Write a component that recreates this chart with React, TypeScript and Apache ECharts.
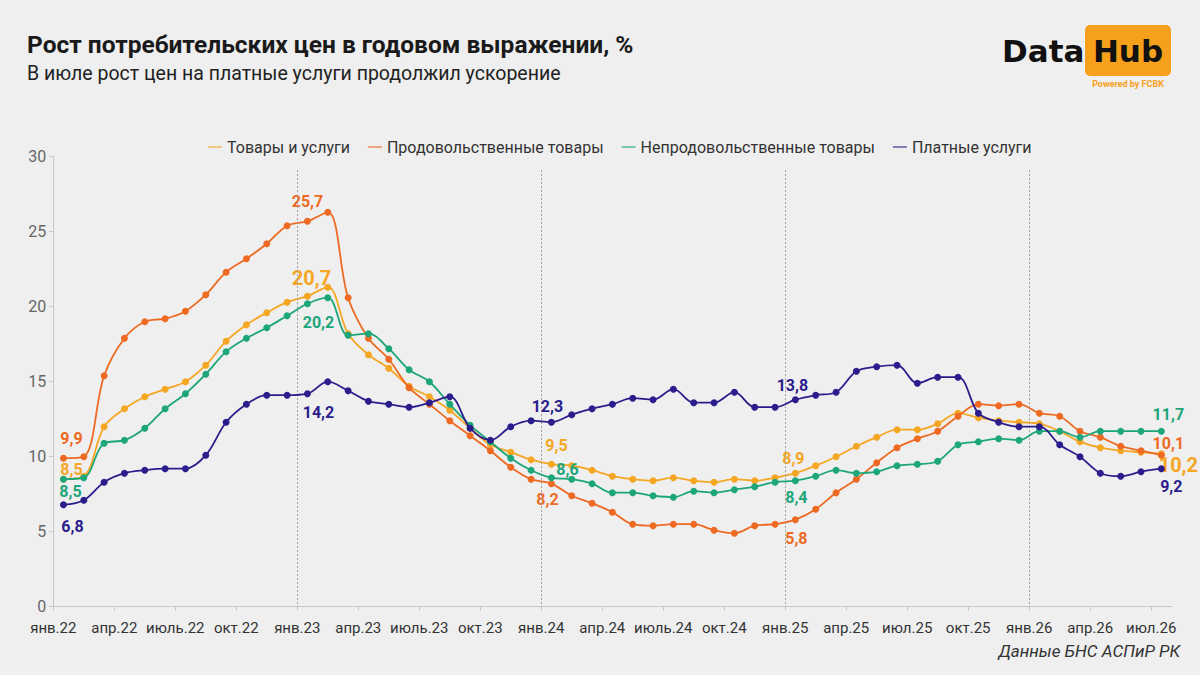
import React, { useEffect, useRef } from "react";
import * as echarts from "echarts";

// ---- Data ----
const monthNames = ["янв", "фев", "мар", "апр", "май", "июн", "июл", "авг", "сен", "окт", "ноя", "дек"];
const years = ["22", "23", "24", "25", "26"];
const categories: string[] = [];
years.forEach((y) => monthNames.forEach((m) => categories.push(m + "." + y)));
categories.length = 55; // янв.22 … июл.26

const tickLabels = [
  "янв.22", "апр.22", "июль.22", "окт.22",
  "янв.23", "апр.23", "июль.23", "окт.23",
  "янв.24", "апр.24", "июль.24", "окт.24",
  "янв.25", "апр.25", "июл.25", "окт.25",
  "янв.26", "апр.26", "июл.26",
];

const seriesNames = ["Товары и услуги", "Продовольственные товары", "Непродовольственные товары", "Платные услуги"];

const goods = [
  8.5, 8.7, 12.0, 13.2, 14.0, 14.5, 15.0, 16.1, 17.7, 18.8, 19.6, 20.3,
  20.7, 21.3, 18.2, 16.8, 15.9, 14.7, 14.0, 13.1, 11.9, 10.8, 10.3, 9.8,
  9.5, 9.4, 9.1, 8.7, 8.5, 8.4, 8.6, 8.4, 8.3, 8.5, 8.4, 8.6,
  8.9, 9.4, 10.0, 10.7, 11.3, 11.8, 11.8, 12.2, 12.9, 12.6, 12.4, 12.3,
  12.2, 11.7, 11.0, 10.6, 10.4, 10.3, 10.2,
];
const food = [
  9.9, 10.0, 15.4, 17.9, 19.0, 19.2, 19.7, 20.8, 22.3, 23.2, 24.2, 25.4,
  25.7, 26.3, 20.6, 17.9, 16.5, 14.6, 13.5, 12.4, 11.4, 10.4, 9.3, 8.5,
  8.2, 7.4, 6.9, 6.3, 5.5, 5.4, 5.5, 5.5, 5.1, 4.9, 5.4, 5.5,
  5.8, 6.5, 7.6, 8.5, 9.6, 10.6, 11.2, 11.7, 12.7, 13.5, 13.4, 13.5,
  12.9, 12.7, 11.7, 11.3, 10.7, 10.4, 10.1,
];
const nonFood = [
  8.5, 8.6, 10.9, 11.1, 11.9, 13.2, 14.2, 15.5, 17.0, 17.9, 18.6, 19.4,
  20.2, 20.6, 18.1, 18.2, 17.2, 15.8, 15.0, 13.5, 12.1, 11.0, 9.9, 9.1,
  8.6, 8.5, 8.2, 7.6, 7.6, 7.4, 7.3, 7.7, 7.6, 7.8, 8.0, 8.3,
  8.4, 8.7, 9.1, 8.9, 9.0, 9.4, 9.5, 9.7, 10.8, 11.0, 11.2, 11.1,
  11.7, 11.7, 11.3, 11.7, 11.7, 11.7, 11.7,
];
const services = [
  6.8, 7.1, 8.3, 8.9, 9.1, 9.2, 9.2, 10.1, 12.3, 13.5, 14.1, 14.1,
  14.2, 15.0, 14.4, 13.7, 13.5, 13.3, 13.6, 14.0, 11.9, 11.1, 12.0, 12.4,
  12.3, 12.8, 13.2, 13.5, 13.9, 13.8, 14.5, 13.6, 13.6, 14.3, 13.3, 13.3,
  13.8, 14.1, 14.3, 15.7, 16.0, 16.1, 14.9, 15.3, 15.3, 12.9, 12.3, 12.0,
  12.0, 10.8, 10.0, 8.9, 8.7, 9.0, 9.2,
];

// indices of January boundaries (dashed lines)
const yearStarts = [12, 24, 36, 48];

// ---- Styles ----
const colors = ["#F5A623", "#EE6A22", "#1DA67A", "#2B1E8C"];
const FONT = "Roboto, 'Noto Sans', sans-serif";

type LabelSpec = { i: number; dx: number; dy: number; big?: boolean };
const labelSpecs: LabelSpec[][] = [
  [
    { i: 0, dx: 8, dy: -10 },
    { i: 12, dx: 4, dy: -18, big: true },
    { i: 24, dx: 5, dy: -19 },
    { i: 36, dx: -2, dy: -15 },
    { i: 54, dx: 17, dy: 11, big: true },
  ],
  [
    { i: 0, dx: 8, dy: -20 },
    { i: 12, dx: 0, dy: -20 },
    { i: 24, dx: -4, dy: 16 },
    { i: 36, dx: 1, dy: 19 },
    { i: 54, dx: 7, dy: -12 },
  ],
  [
    { i: 0, dx: 7, dy: 12 },
    { i: 12, dx: 11, dy: 19 },
    { i: 24, dx: 16, dy: -8 },
    { i: 36, dx: 1, dy: 17 },
    { i: 54, dx: 7, dy: -17 },
  ],
  [
    { i: 0, dx: 9, dy: 22 },
    { i: 12, dx: 11, dy: 19 },
    { i: 24, dx: -4, dy: -16 },
    { i: 36, dx: -3, dy: -14 },
    { i: 54, dx: 10, dy: 18 },
  ],
];

const fmt = (v: number) => v.toFixed(1).replace(".", ",");

function buildSeries(values: number[], idx: number) {
  const color = colors[idx];
  const specs = labelSpecs[idx];
  const data = values.map((v, i) => {
    const s = specs.find((x) => x.i === i);
    if (!s) return v;
    return {
      value: v,
      label: {
        show: true,
        position: "inside",
        offset: [s.dx, s.dy],
        formatter: () => fmt(v),
        color,
        fontFamily: FONT,
        fontWeight: "bold",
        fontSize: s.big ? 20 : 16,
        textBorderWidth: 0,
      },
    };
  });
  return {
    name: seriesNames[idx],
    type: "line",
    xAxisIndex: 0,
    yAxisIndex: 0,
    data,
    smooth: 0.35,
    symbol: "circle",
    symbolSize: 7,
    lineStyle: { width: 1.8, color },
    itemStyle: { color },
    label: { show: false },
    emphasis: { disabled: true },
    z: 3 + idx,
  };
}

export default function App() {
  const ref = useRef<HTMLDivElement>(null);

  useEffect(() => {
    document.body.style.margin = "0";
    if (!ref.current) return;
    const chart = echarts.init(ref.current, undefined, { renderer: "svg" });

    const boundaries = Array.from({ length: categories.length + 1 }, (_, i) => "b" + i);

    const option: any = {
      animation: false,
      backgroundColor: "#EFEFEF",
      textStyle: { fontFamily: FONT },
      grid: { left: 53.3, right: 28.5, top: 156.7, bottom: 68.3, containLabel: false },
      legend: {
        top: 134,
        left: 203,
        icon: "rect",
        itemWidth: 14,
        itemHeight: 2,
        itemGap: 18,
        textStyle: { color: "#333", fontSize: 16, fontFamily: FONT },
        data: seriesNames.map((n, i) => ({ name: n, itemStyle: { color: colors[i], opacity: 0.55 } })),
      },
      xAxis: [
        {
          type: "category",
          data: categories,
          boundaryGap: true,
          axisLine: { show: true, lineStyle: { color: "#c8c8c8", width: 1 } },
          axisTick: { show: false },
          axisLabel: { show: false },
          splitLine: { show: false },
        },
        {
          type: "category",
          data: boundaries,
          boundaryGap: false,
          position: "bottom",
          axisLine: { show: false },
          axisTick: { show: true, interval: 2, length: 4, lineStyle: { color: "#c8c8c8" } },
          axisLabel: {
            interval: 2,
            color: "#333",
            fontSize: 15,
            fontFamily: FONT,
            margin: 14,
            formatter: (_v: string, i: number) => (i % 3 === 0 && tickLabels[i / 3]) || "",
          },
          splitLine: { show: false },
        },
      ],
      yAxis: {
        type: "value",
        min: 0,
        max: 30,
        interval: 5,
        axisLine: { show: true, lineStyle: { color: "#c8c8c8", width: 1 } },
        axisTick: { show: true, length: 4, lineStyle: { color: "#c8c8c8" } },
        axisLabel: { color: "#666", fontSize: 16, fontFamily: FONT, margin: 7 },
        splitLine: { show: false },
      },
      series: [
        {
          name: "_grid",
          type: "line",
          xAxisIndex: 1,
          yAxisIndex: 0,
          data: boundaries.map(() => null),
          symbol: "none",
          silent: true,
          markLine: {
            silent: true,
            symbol: ["none", "none"],
            label: { show: false },
            lineStyle: { type: [2, 2], color: "#9b9b9b", width: 1 },
            emphasis: { disabled: true },
            data: yearStarts.map((i) => [{ coord: [i, 29.1] }, { coord: [i, 0] }]),
          },
          z: 1,
        },
        buildSeries(goods, 0),
        buildSeries(food, 1),
        buildSeries(nonFood, 2),
        buildSeries(services, 3),
      ],
      graphic: [
        {
          type: "text",
          x: 27,
          y: 44,
          style: {
            text: "Рост потребительских цен в годовом выражении, %",
            font: `bold 24.5px ${FONT}`,
            fill: "#1a1a1a",
            verticalAlign: "middle",
            align: "left",
          },
        },
        {
          type: "text",
          x: 27,
          y: 73,
          style: {
            text: "В июле рост цен на платные услуги продолжил ускорение",
            font: `19.5px ${FONT}`,
            fill: "#222",
            verticalAlign: "middle",
            align: "left",
          },
        },
        {
          type: "rect",
          shape: { x: 1085, y: 25, width: 86, height: 51, r: 5 },
          style: { fill: "#F7A01B" },
        },
        {
          type: "text",
          x: 1002,
          y: 51,
          style: {
            text: "Data",
            font: "bold 31px 'DejaVu Sans'",
            fill: "#111",
            verticalAlign: "middle",
            align: "left",
          },
        },
        {
          type: "text",
          x: 1128,
          y: 51,
          style: {
            text: "Hub",
            font: "bold 31px 'DejaVu Sans'",
            fill: "#111",
            verticalAlign: "middle",
            align: "center",
          },
        },
        {
          type: "text",
          x: 1128,
          y: 84,
          style: {
            text: "Powered by FCBK",
            font: `bold 9px ${FONT}`,
            fill: "#F7A01B",
            verticalAlign: "middle",
            align: "center",
          },
        },
        {
          type: "text",
          x: 1180,
          y: 651,
          style: {
            text: "Данные БНС АСПиР РК",
            font: `italic 17px ${FONT}`,
            fill: "#333",
            verticalAlign: "middle",
            align: "right",
          },
        },
      ],
    };

    chart.setOption(option);
    return () => chart.dispose();
  }, []);

  return (
    <div
      ref={ref}
      style={{ position: "absolute", left: 0, top: 0, width: 1200, height: 675 }}
    />
  );
}
